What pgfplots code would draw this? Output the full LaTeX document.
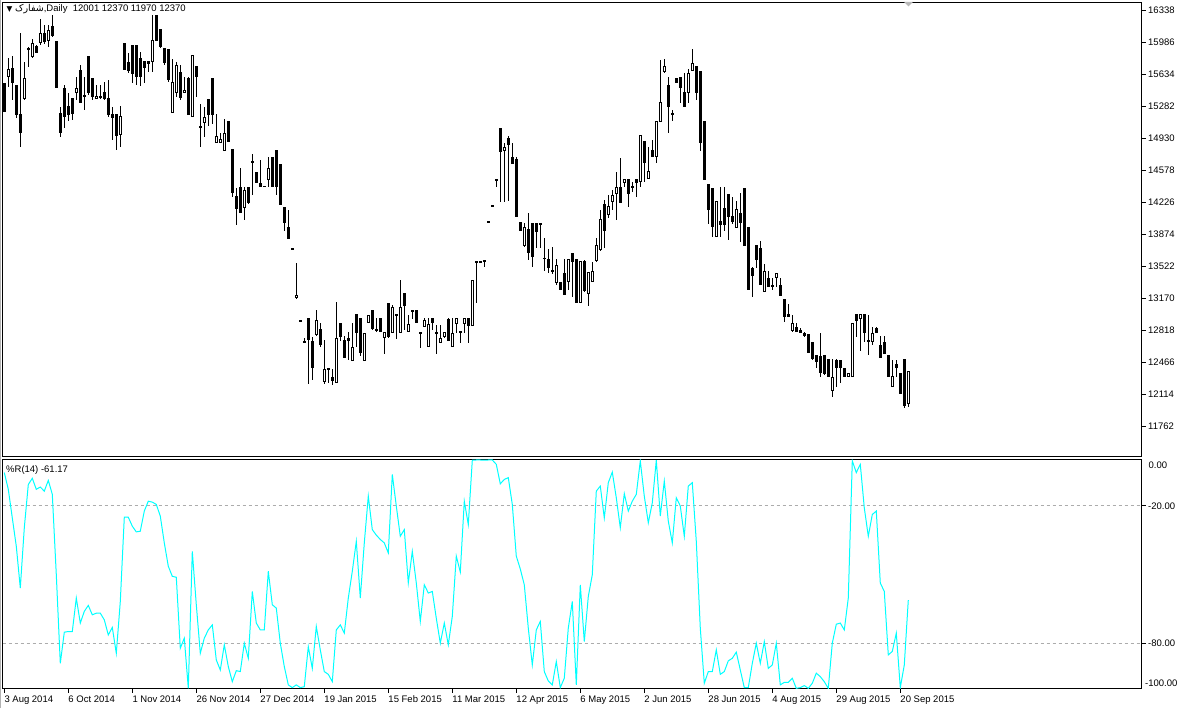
\documentclass[border=0pt]{standalone}
\usepackage{fontspec}
\setmainfont{Liberation Sans}
\newfontfamily\arabicfont[Script=Arabic]{DejaVu Sans}
\newfontfamily\dejavu{DejaVu Sans}
\usepackage{pgfplots}
\usepackage{pgfplotstable}
\pgfplotsset{compat=1.18}
\TeXXeTstate=1

\pgfplotstableread{
o h l c
15535 15535 15216 15216
15601 15810 15491 15689
15700 15832 15348 15535
15513 15513 15150 15183
15194 16085 14831 14985
15359 15766 15348 15590
15909 15931 15711 15909
15821 16019 15810 15975
15942 15953 15865 15865
15975 16239 15953 16085
16085 16173 15964 15986
15997 16173 15931 16118
16162 16283 16041 16052
15997 15997 15480 15480
15205 15271 14941 14985
15480 15513 15040 15161
15282 15425 15117 15183
15370 15370 15128 15194
15425 15601 15348 15480
15678 15733 15315 15315
15403 15601 15238 15381
15832 15832 15403 15425
15590 15590 15348 15381
15359 15513 15359 15392
15392 15513 15359 15370
15436 15546 15348 15359
15370 15568 15161 15183
15194 15271 14908 15150
15194 15194 14798 14952
14963 15282 14831 15172
15975 15975 15678 15678
15766 15865 15645 15667
15953 15953 15535 15634
15953 15953 15513 15601
15810 15876 15502 15601
15777 15777 15535 15700
15777 15777 15656 15744
15766 16283 15656 16008
16283 16283 15997 15997
16129 16129 15920 15931
15920 15920 15733 15755
15909 15909 15546 15568
15205 15799 15205 15546
15425 15766 15381 15733
15656 15733 15348 15370
15425 15601 15425 15458
15590 15601 15183 15183
15161 15843 15161 15843
15722 15722 15381 15601
15051 15304 14831 15051
15095 15271 14941 15161
15359 15359 15062 15183
15590 15590 15084 15183
14875 15194 14875 14952
14875 14985 14875 14919
14787 15139 14787 14985
15117 15117 14886 14886
14809 14809 14281 14325
14292 14380 13973 14149
14391 14600 14105 14105
14160 14391 14028 14358
14391 14391 14204 14215
14655 14754 14303 14677
14556 14556 14435 14435
14435 14688 14391 14391
14402 14402 14391 14391
14468 14721 14391 14600
14721 14721 14391 14391
14798 14798 14303 14391
14644 14644 14193 14193
14171 14171 13907 13995
13951 14138 13819 13819
13709 13709 13709 13709
13170 13555 13159 13203
12917 12917 12917 12917
12686 12730 12686 12686
12950 12950 12224 12708
12697 12741 12268 12400
12763 13038 12752 12928
12829 12895 12631 12653
12246 12708 12224 12389
12389 12389 12235 12389
12301 12389 12213 12257
12235 13126 12235 12730
12895 12895 12697 12741
12708 12752 12510 12510
12730 12796 12488 12697
12477 12895 12477 12631
12994 12994 12631 12785
12950 12950 12532 12565
12477 12785 12477 12785
12895 12983 12895 12983
13038 13038 12818 12829
12829 12950 12796 12807
12950 12950 12796 12796
12730 12796 12554 12796
13115 13115 12730 12741
12785 13093 12785 13071
12983 12983 12719 12983
12785 13368 12785 13071
13225 13225 12818 13082
12796 12983 12796 12884
13038 13038 12939 13016
13038 13038 12895 12895
12785 12785 12620 12785
12851 12950 12851 12928
12631 12950 12631 12884
12950 12950 12818 12895
12774 12873 12554 12796
12675 12873 12675 12730
12741 12796 12730 12796
12939 12950 12697 12697
12631 12950 12631 12785
12884 12950 12785 12950
12796 12796 12675 12796
12884 12950 12785 12950
12950 12950 12675 12862
12862 13368 12862 13368
13566 13566 13115 13566
13566 13566 13566 13566
13577 13577 13511 13577
14006 14006 13995 14006
14182 14182 14182 14182
14468 14468 14391 14468
15040 15040 14226 14776
14787 14875 14226 14831
14930 14952 14237 14853
14721 14875 14644 14644
14699 14721 14061 14061
14006 14006 13907 13907
13742 13995 13731 13951
13929 14105 13588 13665
13995 13995 13511 13621
13995 13995 13720 13896
13995 13995 13720 13973
13610 13830 13467 13599
13599 13709 13445 13500
13456 13731 13434 13478
13335 13599 13313 13533
13346 13346 13258 13258
13445 13599 13203 13203
13346 13599 13258 13599
13665 13665 13181 13566
13599 13599 13115 13115
13115 13577 13115 13577
13577 13588 13236 13247
13214 13456 13082 13456
13346 13566 13346 13467
13577 13830 13566 13753
13698 14138 13687 14039
14204 14248 13720 13907
14083 14303 14050 14182
14226 14358 14138 14303
14314 14556 14028 14391
14391 14710 14215 14215
14435 14479 14391 14479
14479 14479 14171 14314
14391 14446 14336 14391
14479 14479 14281 14435
14446 14963 14391 14963
14897 14897 14446 14655
14479 14831 14479 14567
14798 14908 14721 14721
14721 15117 14655 15117
15106 15788 15106 15326
15656 15799 15645 15722
15513 15601 14985 15271
15194 15238 15117 15194
15590 15590 15535 15535
15601 15601 15315 15480
15436 15645 15271 15271
15425 15689 15315 15645
15667 15909 15667 15755
15722 15722 15348 15425
15667 15667 14787 14875
15117 15117 14468 14468
14424 14424 13984 14138
14380 14380 13841 13951
13841 14237 13841 14237
14017 14391 13841 13973
14160 14391 13907 13973
14314 14314 13808 14061
14072 14281 13984 14006
13940 14237 13940 14149
14105 14325 13786 13995
14380 14380 13742 13742
13951 13951 13258 13258
13500 13511 13181 13412
13753 13753 13500 13588
13720 13797 13313 13313
13236 13544 13236 13467
13390 13467 13291 13291
13302 13390 13258 13302
13390 13445 13291 13445
13313 13390 13192 13192
13159 13159 12906 12961
12994 13104 12961 12961
12807 12983 12796 12895
12851 12895 12796 12796
12818 12840 12785 12785
12785 12796 12741 12752
12774 12774 12565 12565
12686 12686 12488 12499
12543 12543 12400 12466
12532 12785 12301 12345
12543 12543 12323 12334
12499 12499 12301 12301
12147 12499 12081 12301
12488 12499 12191 12400
12488 12488 12235 12400
12400 12400 12301 12301
12301 12345 12301 12345
12301 12895 12301 12895
12994 12994 12741 12917
12939 12994 12587 12994
12994 12994 12686 12785
12697 12983 12543 12697
12686 12851 12653 12785
12840 12851 12785 12785
12653 12752 12510 12510
12686 12752 12554 12554
12543 12543 12301 12301
12191 12488 12191 12312
12444 12488 12301 12400
12345 12345 12114 12114
12499 12499 11960 11982
12001 12370 11970 12370
}\candles

\pgfplotstableread{
r
-5.5
-12.8
-25.3
-37.7
-55.9
-29.6
-10.7
-8.0
-12.8
-11.8
-13.6
-8.9
-15.0
-50.1
-88.8
-75.2
-74.9
-74.9
-60.3
-71.2
-66.1
-63.5
-67.6
-66.9
-66.9
-69.8
-76.4
-73.1
-84.4
-61.8
-25.0
-25.0
-28.9
-31.4
-31.1
-22.3
-18.0
-18.4
-19.4
-24.5
-36.2
-46.4
-50.8
-51.2
-82.2
-77.8
-99.7
-39.9
-63.2
-84.4
-77.8
-74.2
-72.0
-87.3
-91.7
-80.7
-90.2
-96.8
-92.0
-92.4
-80.0
-86.6
-57.4
-71.2
-74.2
-74.2
-48.6
-63.2
-64.7
-80.0
-90.2
-98.2
-99.4
-98.2
-99.4
-99.0
-81.5
-91.0
-72.7
-82.9
-92.4
-93.6
-96.8
-74.2
-72.0
-75.6
-60.3
-48.6
-35.5
-60.3
-36.2
-15.8
-30.4
-32.8
-34.7
-36.2
-40.6
-6.3
-20.1
-33.3
-30.4
-53.7
-39.9
-53.7
-70.5
-54.5
-58.1
-57.4
-69.1
-80.0
-71.2
-80.7
-68.3
-42.0
-48.9
-18.0
-28.2
-0.1
0
0
-0.1
0
0
-1.9
-10.4
-8.5
-7.7
-19.4
-42.0
-47.6
-54.5
-73.4
-89.5
-74.2
-70.5
-92.4
-96.5
-98.2
-88.0
-99.4
-95.3
-73.4
-61.8
-98.2
-54.5
-79.3
-59.6
-50.1
-13.6
-11.4
-25.3
-9.9
-5.3
-16.5
-29.6
-14.7
-22.3
-18.0
-15.0
-0.4
-15.8
-27.4
-18.7
-0.1
-24.5
-9.2
-26.7
-36.2
-16.5
-20.1
-33.3
-11.4
-9.9
-35.5
-73.4
-97.5
-92.4
-92.4
-82.9
-93.6
-92.4
-87.7
-86.6
-83.9
-91.7
-99.4
-99.4
-88.8
-80.0
-88.8
-79.3
-91.0
-89.5
-80.0
-98.2
-97.1
-97.1
-95.3
-99.7
-99.4
-98.5
-99.7
-97.5
-93.1
-94.6
-96.8
-99.7
-80.0
-71.7
-71.2
-74.2
-60.3
-0.4
-5.5
-1.9
-20.9
-33.3
-23.8
-22.3
-53.7
-57.4
-85.1
-83.6
-75.6
-99.4
-89.5
-61.17
}\wpr

\begin{document}
\begin{tikzpicture}[x=1pt,y=1pt]
\useasboundingbox (0,0) rectangle (1191,708);
\fill[white] (0,0) rectangle (1191,708);
\pgfplotsset{
  mtbase/.style={
    scale only axis, width=1139pt,
    xmin=-0.325, xmax=284.425,
    axis line style={black, line width=1pt},
    tick align=outside, major tick length=4pt,
    tick style={black, line width=0.8pt},
    tick label style={font=\fontsize{9.5}{11}\selectfont},
    ytick pos=right, yticklabel pos=right,
    yticklabel style={anchor=west, inner sep=0pt, xshift=2pt},
  },
  candle/.style 2 args={draw=none, mark=none, forget plot,
    error bars/.cd, y dir=both, y explicit, error mark=none,
    error bar style={draw=#1, line width=#2}},
}
\begin{axis}[mtbase,
  at={(2.5pt,251pt)}, anchor=south west, height=454.5pt, width=1139.5pt,
  ymin=11421, ymax=16420.5,
  xmin=-0.45, xmax=284.425,
  xtick=\empty,
  ytick={11762,12114,12466,12818,13170,13522,13874,14226,14578,14930,15282,15634,15986,16338},
  yticklabels={11762,12114,12466,12818,13170,13522,13874,14226,14578,14930,15282,15634,15986,16338},
]
% wicks
\addplot[candle={black}{1pt}]
  table[x expr=\coordindex, y expr={\thisrow{l}+(\thisrow{h}-\thisrow{l})/2},
        y error expr={(\thisrow{h}-\thisrow{l})/2}] {\candles};
% bodies
\addplot[candle={black}{3pt}]
  table[x expr=\coordindex, y expr={\thisrow{c}+(\thisrow{o}-\thisrow{c})/2},
        y error expr={max(abs(\thisrow{o}-\thisrow{c})/2,5.5)}] {\candles};
% hollow interior of rising candles
\addplot[candle={white}{1pt}]
  table[x expr=\coordindex, y expr={\thisrow{c}+(\thisrow{o}-\thisrow{c})/2},
        y error expr={max((\thisrow{c}-\thisrow{o})/2-11,0)}] {\candles};
\end{axis}

\begin{axis}[mtbase,
  at={(2.5pt,19pt)}, anchor=south west, height=229pt, width=1139.5pt,
  xmin=-0.45, xmax=284.425,
  ymin=-100, ymax=0, clip=true,
  ytick={-80,-20}, yticklabels={-80.00,-20.00},
  ymajorgrids, grid style={gray!65, line width=0.8pt, dash pattern=on 3pt off 3pt},
  xtick={0,16,...,224}, xtick pos=left,
  xticklabels={3 Aug 2014,6 Oct 2014,1 Nov 2014,26 Nov 2014,27 Dec 2014,19 Jan 2015,15 Feb 2015,11 Mar 2015,12 Apr 2015,6 May 2015,2 Jun 2015,28 Jun 2015,4 Aug 2015,29 Aug 2015,20 Sep 2015},
  xticklabel style={anchor=north west, inner sep=0pt, xshift=0pt, yshift=-2.5pt},
]
\addplot[color={rgb,255:red,0;green,255;blue,255}, line width=1pt, mark=none]
  table[x expr=\coordindex, y=r] {\wpr};
\end{axis}

% panel texts
\node[anchor=west, inner sep=0pt, font=\fontsize{9.5}{11}\selectfont] at (6.5,699)
  {{\dejavu\fontsize{7.5}{8}\selectfont ▼}\ {\arabicfont\beginR شفارک\endR},Daily\ \ 12001 12370 11970 12370};
\node[anchor=west, inner sep=0pt, font=\fontsize{9.5}{11}\selectfont] at (6,238) {\%R(14) -61.17};
\node[anchor=west, inner sep=0pt, font=\fontsize{9.5}{11}\selectfont] at (1148.5,243) {0.00};
\node[anchor=west, inner sep=0pt, font=\fontsize{9.5}{11}\selectfont] at (1145,25) {-100.00};
\fill[gray!55] (904,706) -- (913,706) -- (908.5,701.5) -- cycle;
\draw[gray!60, line width=1pt] (0.5,0) -- (0.5,708);
\end{tikzpicture}
\end{document}
